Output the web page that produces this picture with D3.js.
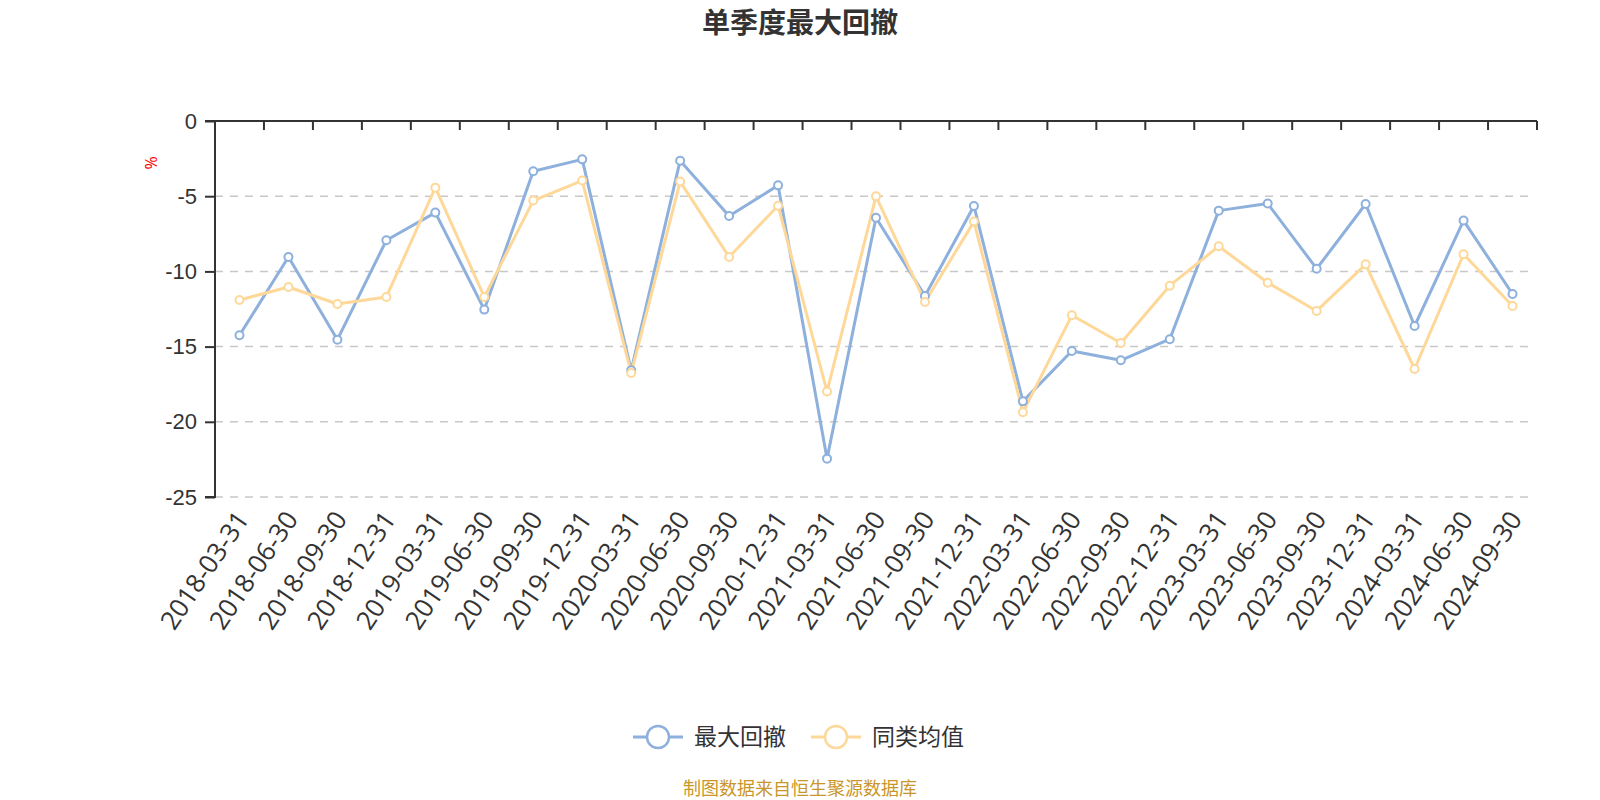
<!DOCTYPE html>
<html>
<head>
<meta charset="utf-8">
<script src="https://cdn.jsdelivr.net/npm/d3@7"></script>
<style>
  body { margin: 0; background: #fff; }
  svg { font-family: "Open Sans", "Noto Sans CJK SC", sans-serif; }
</style>
</head>
<body>
<div id="chart-area"></div>
<script>
const W = 1600
const H = 800
const MARGIN = { LEFT: 215, RIGHT: 63, TOP: 121, BOTTOM: 303 }
const WIDTH = W - MARGIN.LEFT - MARGIN.RIGHT
const HEIGHT = H - MARGIN.TOP - MARGIN.BOTTOM

// data
const quarters = [
  "2018-03-31", "2018-06-30", "2018-09-30", "2018-12-31",
  "2019-03-31", "2019-06-30", "2019-09-30", "2019-12-31",
  "2020-03-31", "2020-06-30", "2020-09-30", "2020-12-31",
  "2021-03-31", "2021-06-30", "2021-09-30", "2021-12-31",
  "2022-03-31", "2022-06-30", "2022-09-30", "2022-12-31",
  "2023-03-31", "2023-06-30", "2023-09-30", "2023-12-31",
  "2024-03-31", "2024-06-30", "2024-09-30"
]
const maxDrawdown = [
  -14.25, -9.04, -14.54, -7.93, -6.09, -12.54, -3.34, -2.55,
  -16.58, -2.64, -6.32, -4.28, -22.45, -6.43, -11.63, -5.65,
  -18.64, -15.29, -15.91, -14.51, -5.96, -5.49, -9.82, -5.52,
  -13.63, -6.62, -11.50
]
const peerAverage = [
  -11.90, -11.04, -12.17, -11.70, -4.43, -11.70, -5.29, -3.96,
  -16.76, -4.03, -9.04, -5.63, -17.99, -5.01, -12.03, -6.69,
  -19.37, -12.92, -14.76, -10.95, -8.33, -10.75, -12.63, -9.53,
  -16.49, -8.86, -12.30
]
const yTicks = [0, -5, -10, -15, -20, -25]

const series = [
  { name: "最大回撤", values: maxDrawdown, color: "#8eb0dc" },
  { name: "同类均值", values: peerAverage, color: "#fed899" }
]

const svg = d3.select("#chart-area").append("svg")
  .attr("width", W)
  .attr("height", H)

// title
svg.append("text")
  .attr("x", 800)
  .attr("y", 33)
  .attr("text-anchor", "middle")
  .attr("font-size", "28px")
  .attr("font-weight", "bold")
  .attr("fill", "#333")
  .text("单季度最大回撤")

const g = svg.append("g")
  .attr("transform", `translate(${MARGIN.LEFT}, ${MARGIN.TOP})`)

// scales
const x = d3.scaleBand().domain(quarters).range([0, WIDTH])
const y = d3.scaleLinear().domain([-25, 0]).range([HEIGHT, 0])

// grid lines
g.append("g")
  .selectAll("line")
  .data(yTicks.filter(d => d !== 0))
  .join("line")
    .attr("x1", 0)
    .attr("x2", WIDTH - 2)
    .attr("y1", d => y(d))
    .attr("y2", d => y(d))
    .attr("stroke", "#c8c8c8")
    .attr("stroke-width", 1.5)
    .attr("stroke-dasharray", "8,7")

// y axis
const yAxis = g.append("g")
  .call(d3.axisLeft(y).tickValues(yTicks).tickSize(10).tickPadding(8).tickFormat(d3.format("d")))
yAxis.select(".domain").attr("stroke", "#333").attr("stroke-width", 2)
  .attr("d", `M-10,${y(-25)}H0V${y(0)}H-10`)
yAxis.selectAll(".tick line").attr("stroke", "#333").attr("stroke-width", 2)
yAxis.selectAll(".tick text")
  .attr("font-size", "22px")
  .attr("fill", "#333")
  .text(d => d === 0 ? "0" : "-" + Math.abs(d))

// unit label
g.append("text")
  .attr("transform", `translate(-58, 42) rotate(-90)`)
  .attr("text-anchor", "middle")
  .attr("font-size", "16px")
  .attr("fill", "#ff0000")
  .text("%")

// x axis on the zero line, ticks between categories
const xAxisG = g.append("g").attr("transform", `translate(0, ${y(0)})`)
xAxisG.append("line")
  .attr("x1", 0).attr("x2", WIDTH)
  .attr("stroke", "#333").attr("stroke-width", 2)
xAxisG.selectAll(".xtick")
  .data(quarters)
  .join("line")
    .attr("class", "xtick")
    .attr("x1", (d, i) => x.step() * (i + 1))
    .attr("x2", (d, i) => x.step() * (i + 1))
    .attr("y1", 0).attr("y2", 9)
    .attr("stroke", "#333").attr("stroke-width", 2)

// category labels under the plot
g.append("g")
  .selectAll("text")
  .data(quarters)
  .join("text")
    .attr("transform", d => `translate(${x(d) + x.bandwidth() / 2 + 3}, ${HEIGHT + 17}) rotate(-56)`)
    .attr("text-anchor", "end")
    .attr("dy", "0.35em")
    .attr("font-size", "26px")
    .attr("fill", "#333")
    .text(d => d)

// lines
const line = d3.line()
  .x((d, i) => x(quarters[i]) + x.bandwidth() / 2)
  .y(d => y(d))

series.forEach(s => {
  g.append("path")
    .attr("fill", "none")
    .attr("stroke", s.color)
    .attr("stroke-width", 3)
    .attr("stroke-linejoin", "round")
    .attr("d", line(s.values))
})
series.forEach(s => {
  g.append("g")
    .selectAll("circle")
    .data(s.values)
    .join("circle")
      .attr("cx", (d, i) => x(quarters[i]) + x.bandwidth() / 2)
      .attr("cy", d => y(d))
      .attr("r", 4)
      .attr("fill", "#fff")
      .attr("stroke", s.color)
      .attr("stroke-width", 2)
})

// legend
const legendX = [633, 811]
const legend = svg.append("g")
series.forEach((s, i) => {
  const lg = legend.append("g").attr("transform", `translate(${legendX[i]}, 737)`)
  lg.append("line")
    .attr("x1", 0).attr("x2", 50)
    .attr("stroke", s.color).attr("stroke-width", 3)
  lg.append("circle")
    .attr("cx", 25).attr("r", 11)
    .attr("fill", "#fff")
    .attr("stroke", s.color).attr("stroke-width", 2.5)
  lg.append("text")
    .attr("x", 61)
    .attr("dy", "0.35em")
    .attr("font-size", "23px")
    .attr("fill", "#333")
    .text(s.name)
})

// source note
svg.append("text")
  .attr("x", 800)
  .attr("y", 789)
  .attr("dy", "0.35em")
  .attr("text-anchor", "middle")
  .attr("font-size", "18px")
  .attr("fill", "#c9962b")
  .text("制图数据来自恒生聚源数据库")
</script>
</body>
</html>
